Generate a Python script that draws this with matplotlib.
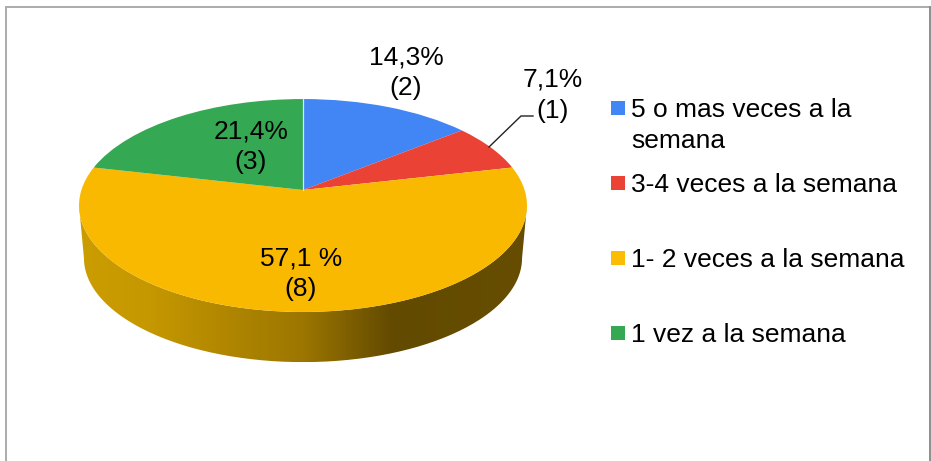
import numpy as np
import matplotlib
matplotlib.use('Agg')
import matplotlib.pyplot as plt
import matplotlib.colors as mcolors
from matplotlib.path import Path
from matplotlib.patches import PathPatch, Rectangle
from matplotlib.transforms import Transform

# data
categories = ['5 o mas veces a la\nsemana', '3-4 veces a la semana', '1- 2 veces a la semana', '1 vez a la semana']
counts = [2, 1, 8, 3]
value_labels = ['14,3%\n(2)', '7,1%\n(1)', '57,1 %\n(8)', '21,4%\n(3)']
colors = ['#4285F4', '#EA4335', '#F8B900', '#34A853']
legend_colors = ['#4285F4', '#EA4335', '#FBBC04', '#34A853']

plt.rcParams['font.family'] = 'Liberation Sans'
FS = 19
TXT = '#000000'

# pie geometry in picture pixels
CX, CY = 303, 190      # apex of the slices
C = 0.1456             # perspective strength
RX, RY = 221.6, 104.2
ELL_Y = 205.5          # middle of the top ellipse
DEPTH_Y, DEPTH_S = 258, 0.978


class Tilt(Transform):
    input_dims = 2
    output_dims = 2
    is_affine = False
    has_inverse = False

    def transform_non_affine(self, values):
        values = np.asarray(values, dtype=float)
        d = 1 + C * values[:, 1]
        return np.column_stack([CX + RX * values[:, 0] / d, CY - RY * values[:, 1] / d])


tilt = Tilt()

fig = plt.figure(figsize=(9.31, 4.61), dpi=100)
ax = fig.add_axes([0, 0, 1, 1])

wedges, _ = ax.pie(counts, colors=colors, startangle=90, counterclock=False, radius=1)
for w in wedges:
    w.set_transform(tilt + ax.transData)
    w.set_edgecolor('none')
    w.set_zorder(3)
    w.set_antialiased(True)

ax.set_aspect('auto')
ax.set_xlim(0, 931)
ax.set_ylim(461, 0)
ax.axis('off')

# side of the pie, only the yellow slice shows there
t0 = np.pi + np.arcsin(C)
t1 = 2 * np.pi - np.arcsin(C)
t = np.linspace(t0, t1, 200)
rim = tilt.transform_non_affine(np.column_stack([np.cos(t), np.sin(t)]))
low = np.column_stack([CX + (rim[:, 0] - CX) * DEPTH_S, DEPTH_Y + (rim[:, 1] - ELL_Y) * DEPTH_S])
side = np.vstack([rim, low[::-1], rim[:1]])
side_path = Path(side)

shade = mcolors.LinearSegmentedColormap.from_list('shade', [
    (0.0, '#CC9D00'), (0.15, '#C69800'), (0.5, '#9C7600'), (0.70, '#624A00'), (1.0, '#664D00')])
img = ax.imshow(np.linspace(0, 1, 256).reshape(1, -1), cmap=shade, aspect='auto',
                extent=(79, 527, 362, 205), zorder=2)
clip = PathPatch(side_path, transform=ax.transData, facecolor='none', edgecolor='none')
ax.add_patch(clip)
img.set_clip_path(clip)
ax.set_xlim(0, 931)
ax.set_ylim(461, 0)

# thin white split at the top of the pie
ax.plot([CX, CX], [99, CY], color='#DCE8FA', lw=0.9, zorder=4)

# value labels
label_xs = [406, 553, 301, 251]
label_ys = [65, 87, 265, 138]
for s, x, y in zip(value_labels, label_xs, label_ys):
    top, bottom = s.split('\n')
    ax.text(x, y, top, ha='center', va='baseline', fontsize=FS, color=TXT, zorder=5)
    ax.text(x, y + 30.5, bottom, ha='center', va='baseline', fontsize=FS, color=TXT, zorder=5)

# leader line of the small slice
ax.plot([489, 521, 533], [147, 116, 116], color='#222222', lw=1.0, zorder=5)

# legend
legend_ys = [108, 183, 258, 333]
for name, c, y in zip(categories, legend_colors, legend_ys):
    ax.add_patch(Rectangle((611, y - 7), 14, 14, facecolor=c, edgecolor='none', zorder=5))
    lines = name.split('\n')
    for i, line in enumerate(lines):
        ax.text(631, y + 9 + i * 31, line, ha='left', va='baseline', fontsize=FS, color=TXT, zorder=5)

# frame, the bottom edge is cut off in the picture
ax.plot([6, 6, 930], [461, 7.5, 7.5], color='#ABABAB', lw=1.4, solid_joinstyle='miter', zorder=1)
ax.plot([930, 930], [7.5, 461], color='#8E8E8E', lw=1.4, zorder=1)

fig.savefig('out.png', dpi=100)
